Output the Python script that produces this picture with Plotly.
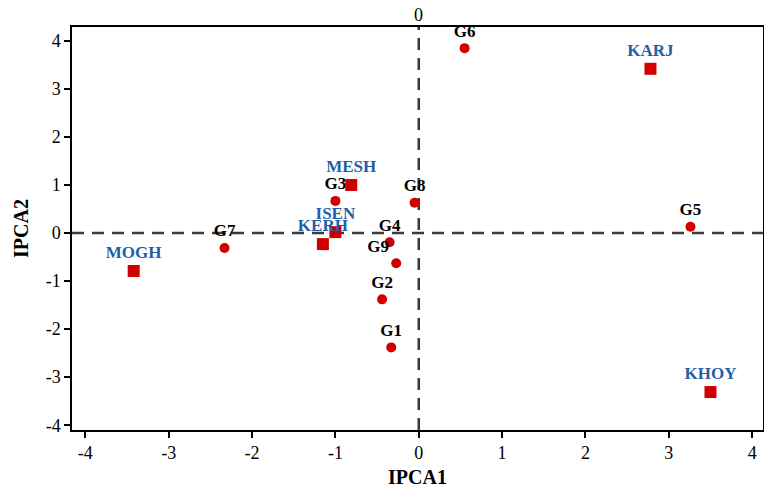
import plotly.graph_objects as go

gen_names = ["G1", "G2", "G3", "G4", "G5", "G6", "G7", "G8", "G9"]
gen_x = [-0.33, -0.44, -1.0, -0.35, 3.26, 0.55, -2.33, -0.05, -0.27]
gen_y = [-2.38, -1.38, 0.67, -0.19, 0.13, 3.85, -0.31, 0.63, -0.63]
gen_textpos = ["top center"] * 8 + ["top left"]

env_names = ["KARJ", "KHOY", "MESH", "ISEN", "KERH", "MOGH"]
env_x = [2.78, 3.50, -0.81, -1.0, -1.15, -3.42]
env_y = [3.42, -3.31, 1.0, 0.02, -0.23, -0.79]

ticks = [-4, -3, -2, -1, 0, 1, 2, 3, 4]

serif = "Liberation Serif"

fig = go.Figure()

fig.add_trace(go.Scatter(
    x=gen_x, y=gen_y, mode="markers+text", text=gen_names,
    textposition=gen_textpos,
    textfont=dict(family=serif, size=17, color="black", weight="bold"),
    marker=dict(symbol="circle", size=10, color="#d00000"),
    cliponaxis=False, showlegend=False))

fig.add_trace(go.Scatter(
    x=env_x, y=env_y, mode="markers+text", text=env_names,
    textposition="top center",
    textfont=dict(family=serif, size=17, color="#1f5fa8", weight="bold"),
    marker=dict(symbol="square", size=12, color="#d00000"),
    cliponaxis=False, showlegend=False))

dash_style = dict(color="#3a3a3a", width=2.5, dash="12px,8px")
fig.add_shape(type="line", xref="x", yref="paper", x0=0, x1=0, y0=0, y1=1,
              line=dash_style, layer="below")
fig.add_shape(type="line", xref="paper", yref="y", x0=0, x1=1, y0=0, y1=0,
              line=dash_style, layer="below")

fig.add_annotation(x=0, y=1, xref="x", yref="paper", text="0", showarrow=False,
                   yanchor="bottom", yshift=0,
                   font=dict(family=serif, size=18, color="black"))
fig.add_annotation(x=1, y=0, xref="paper", yref="y", text="0", showarrow=False,
                   xanchor="left", xshift=4,
                   font=dict(family=serif, size=18, color="black"))

axis_common = dict(
    showgrid=False, zeroline=False, showline=True, linecolor="black",
    linewidth=1.5, mirror=True, ticks="outside", ticklen=6, tickwidth=1.5,
    tickcolor="black", tickvals=ticks, ticktext=[str(t) for t in ticks],
    tickfont=dict(family=serif, size=18, color="black"),
    automargin=False,
)

fig.update_xaxes(range=[-4.16, 4.13],
                 title=dict(text="IPCA1", font=dict(family=serif, size=20, color="black", weight="bold"),
                            standoff=8),
                 **axis_common)
fig.update_yaxes(range=[-4.1, 4.29],
                 title=dict(text="IPCA2", font=dict(family=serif, size=20, color="black", weight="bold"),
                            standoff=12),
                 **axis_common)

fig.update_layout(
    width=764, height=482,
    margin=dict(l=64, r=9, t=19, b=60),
    plot_bgcolor="white", paper_bgcolor="white",
)

fig.write_html("out.html")
